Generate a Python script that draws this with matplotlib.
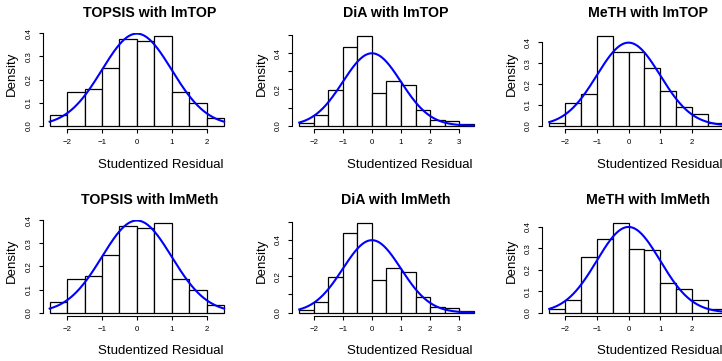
import numpy as np
import matplotlib.pyplot as plt

W, H = 722, 361

titles = [["TOPSIS with lmTOP", "DiA with lmTOP", "MeTH with lmTOP"],
          ["TOPSIS with lmMeth", "DiA with lmMeth", "MeTH with lmMeth"]]

# histogram densities, bin width 0.5, first break at -2.5
topsis_top = [0.045, 0.144, 0.160, 0.250, 0.374, 0.368, 0.387, 0.144, 0.100, 0.033]
dia_top = [0.017, 0.058, 0.195, 0.436, 0.492, 0.181, 0.246, 0.223, 0.086, 0.033, 0.028, 0.008]
meth_top = [0.013, 0.107, 0.152, 0.429, 0.355, 0.352, 0.278, 0.166, 0.088, 0.058, 0.014]
topsis_meth = [0.045, 0.144, 0.160, 0.250, 0.374, 0.368, 0.387, 0.144, 0.100, 0.033]
dia_meth = [0.017, 0.058, 0.195, 0.436, 0.492, 0.181, 0.246, 0.223, 0.086, 0.033, 0.028, 0.008]
meth_meth = [0.019, 0.059, 0.260, 0.344, 0.416, 0.296, 0.291, 0.137, 0.109, 0.061, 0.016]

panels = [[topsis_top, dia_top, meth_top],
          [topsis_meth, dia_meth, meth_meth]]

first_break = -2.5
bin_w = 0.5
mu, sigma = 0.0, 1.0

plt.rcParams['font.family'] = ['Liberation Sans', 'DejaVu Sans']
fig = plt.figure(figsize=(W / 100, H / 100), dpi=100)

# layout in pixels
row_top = [32.8, 219.7]
plot_h = 96.5
col_left = [42.7, 292.3, 542.3]
plot_w = 188.3
title_x = [149.7, 396.0, 647.7]
title_y = [17.3, 204.2]
xlab_x = [98.0, 347.3, 597.3]
xlab_y = [167.5, 354.4]
ylab_y = [74.0, 261.0]


def fx(px):
    return px / W


def fy(py):
    return 1 - py / H


for r in range(2):
    for c in range(3):
        dens = panels[r][c]
        edges = first_break + bin_w * np.arange(len(dens) + 1)
        ax = fig.add_axes([fx(col_left[c]), fy(row_top[r] + plot_h),
                           plot_w / W, plot_h / H])
        ax.bar(edges[:-1], dens, width=bin_w, align='edge',
               facecolor='white', edgecolor='black', linewidth=0.9)
        xs = np.linspace(edges[0], edges[-1], 300)
        ys = np.exp(-0.5 * ((xs - mu) / sigma) ** 2) / (sigma * np.sqrt(2 * np.pi))
        ax.plot(xs, ys, color='#0000ff', lw=1.5)

        lo, hi = edges[0], edges[-1]
        ext = 0.04 * (hi - lo)
        ax.set_xlim(lo - ext, hi + ext)
        ymax = max(dens)
        ax.set_ylim(-0.04 * ymax, 1.04 * ymax)

        xt = np.arange(-2, np.floor(hi + ext) + 1)
        ax.set_xticks(xt)
        ax.set_xticklabels([f"{int(v)}".replace('-', '\u2212') for v in xt])
        yt = np.round(np.arange(0, 1.04 * ymax + 1e-9, 0.1), 1)
        ax.set_yticks(yt)
        if c == 1:
            ylabels = [f"{v:.1f}" if round(v * 10) % 2 == 0 else "" for v in yt]
        else:
            ylabels = [f"{v:.1f}" for v in yt]
        ax.set_yticklabels(ylabels, rotation=90, va='center')

        for s in ['top', 'right']:
            ax.spines[s].set_visible(False)
        ax.spines['bottom'].set_bounds(xt[0], xt[-1])
        ax.spines['left'].set_bounds(yt[0], yt[-1])
        for s in ['bottom', 'left']:
            ax.spines[s].set_linewidth(0.8)
        ax.tick_params(direction='out', length=3, width=0.8, labelsize=5.7,
                       pad=4.3, colors='black')
        ax.patch.set_visible(False)

        fig.text(fx(title_x[c]), fy(title_y[r]), titles[r][c], ha='center',
                 va='baseline', fontsize=10.2, fontweight='bold')
        fig.text(fx(xlab_x[c]), fy(xlab_y[r]), "Studentized Residual",
                 ha='left', va='baseline', fontsize=9.5)
        fig.text(fx(col_left[c] - 30.5), fy(ylab_y[r]), "Density",
                 ha='center', va='center', rotation=90, fontsize=9.5)

fig.savefig('out.png', dpi=100)
